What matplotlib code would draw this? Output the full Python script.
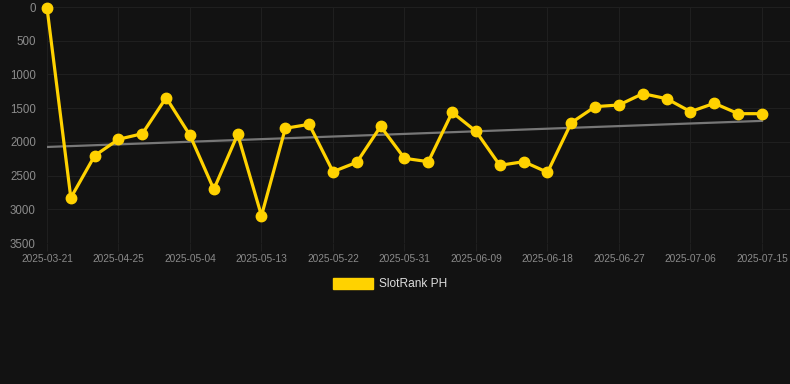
import numpy as np
import matplotlib as mpl
mpl.use('Agg')
import matplotlib.pyplot as plt
from matplotlib.patches import Patch

# data (rank, lower is better)
dates = ['2025-03-21', '2025-04-19', '2025-04-22', '2025-04-25', '2025-04-28',
         '2025-05-01', '2025-05-04', '2025-05-07', '2025-05-10', '2025-05-13',
         '2025-05-16', '2025-05-19', '2025-05-22', '2025-05-25', '2025-05-28',
         '2025-05-31', '2025-06-03', '2025-06-06', '2025-06-09', '2025-06-12',
         '2025-06-15', '2025-06-18', '2025-06-21', '2025-06-24', '2025-06-27',
         '2025-06-30', '2025-07-03', '2025-07-06', '2025-07-09', '2025-07-12',
         '2025-07-15']
ranks = [10, 2830, 2205, 1962, 1879, 1345, 1903, 2704, 1888, 3095,
         1799, 1740, 2442, 2303, 1770, 2244, 2294, 1562, 1844, 2348,
         2294, 2452, 1716, 1478, 1453, 1285, 1360, 1552, 1428, 1582,
         1582]
series_name = 'SlotRank PH'
yticks = [0, 500, 1000, 1500, 2000, 2500, 3000, 3500]

bg = '#121212'
gold = '#FFD200'

plt.rcParams['font.family'] = ['Liberation Sans', 'DejaVu Sans']

fig = plt.figure(figsize=(7.9, 3.84), dpi=100)
fig.patch.set_facecolor(bg)
W, H = 790, 384
ax = fig.add_axes([47 / W, (H - 243) / H, (W - 47) / W, (243 - 7) / H])
ax.set_facecolor(bg)

x = np.arange(len(ranks))

# trend line (least squares)
k, b = np.polyfit(x, ranks, 1)
ax.plot([x[0], x[-1]], [k * x[0] + b, k * x[-1] + b], color='#777777', lw=1.6, zorder=2)

ax.plot(x, ranks, color=gold, lw=2.3, marker='o', ms=7.5, mec=gold, mfc=gold,
        zorder=3, clip_on=False)

ax.set_xlim(0, 30 + 28 / 23.83)
ax.set_ylim(3500, 0)
ax.set_yticks(yticks)
ax.set_xticks(x[::3])
ax.set_xticklabels(dates[::3])

ax.grid(True, color='#1f1f1f', lw=0.8)
ax.set_axisbelow(True)
for s in ax.spines.values():
    s.set_visible(False)
ax.tick_params(axis='y', length=0, pad=8, labelsize=8.3, labelcolor='#8c8c8c')
ax.tick_params(axis='x', length=6, color='#1f1f1f', pad=2, labelsize=7.3, labelcolor='#8a8a8a')

handle = Patch(facecolor=gold, edgecolor=gold)
fig.legend([handle], [series_name], loc='center', bbox_to_anchor=(390 / W, 1 - 284 / H),
           frameon=False, fontsize=8.6, labelcolor='#dddddd',
           handlelength=3.3, handleheight=1.1, handletextpad=0.5)

fig.savefig('out.png', dpi=100, facecolor=bg)
